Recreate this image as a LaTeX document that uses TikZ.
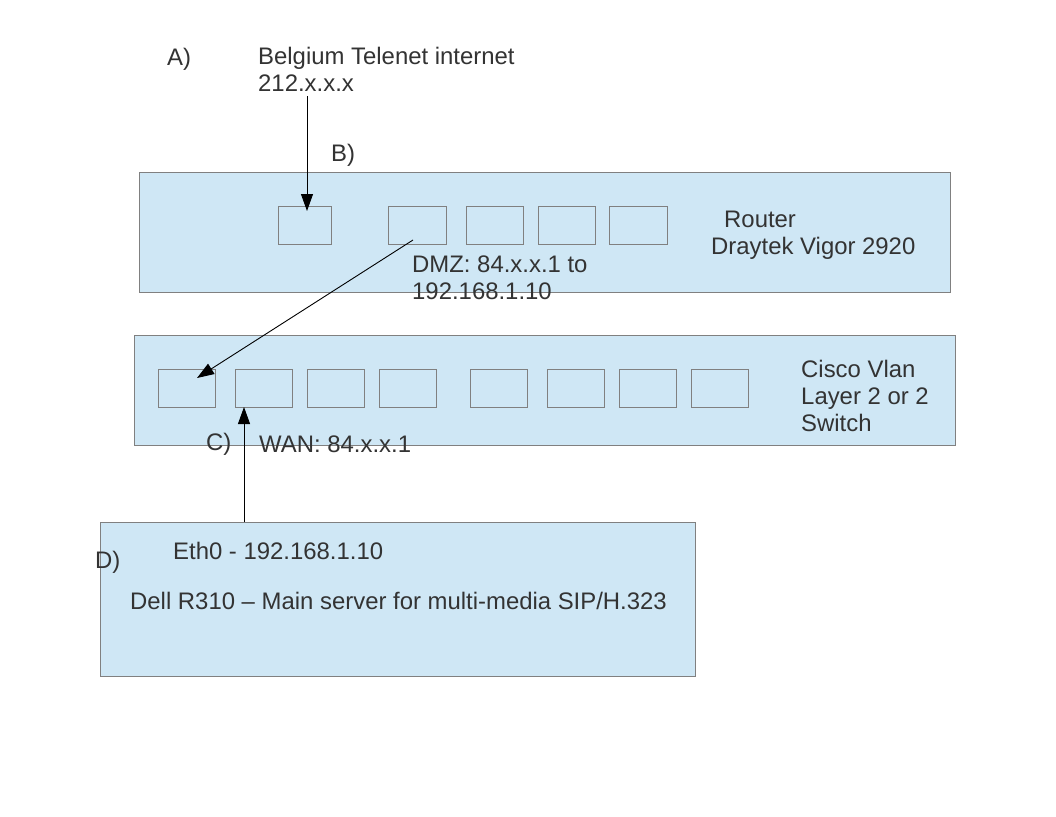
\documentclass[tikz,border=0pt]{standalone}
\usepackage{fontspec}
\setmainfont{Liberation Sans}
\usetikzlibrary{arrows.meta}
\definecolor{boxfill}{RGB}{207,231,245}
\definecolor{boxline}{RGB}{128,128,128}
\definecolor{txt}{RGB}{51,51,51}
\begin{document}
\begin{tikzpicture}[x=1pt,y=-1pt,
  dev/.style={draw=boxline,fill=boxfill,line width=0.9pt},
  port/.style={draw=boxline,line width=0.9pt},
  lbl/.style={anchor=base west,inner sep=0pt,text=txt,font=\fontsize{23.9}{27}\selectfont},
  conn/.style={black,line width=0.9pt,-{Triangle[length=17pt,width=12pt]}}]
\useasboundingbox (0,0) rectangle (1056,816);
\fill[white] (0,0) rectangle (1056,816);
% router
\draw[dev] (139,172) rectangle (950,292);
\draw[port] (278,206) rectangle (331,244);
\draw[port] (388,206) rectangle (446,244);
\draw[port] (466,206) rectangle (523,244);
\draw[port] (538,206) rectangle (595,244);
\draw[port] (609,206) rectangle (667,244);
% switch
\draw[dev] (134,335) rectangle (955,445);
\foreach \a/\b in {158/215,235/292,307/364,379/436,470/527,547/604,619/676,691/748}
  \draw[port] (\a,369) rectangle (\b,407);
% server
\draw[dev] (100,522) rectangle (695,676);
% labels
\node[lbl] (A) at (167,65) {A)};
\node[lbl] (bel1) at (258,64) {Belgium Telenet internet};
\node[lbl] (bel2) at (258,91) {212.x.x.x};
\node[lbl] (B) at (331,161) {B)};
\node[lbl] (rt1) at (724,227) {Router};
\node[lbl] (rt2) at (711,254) {Draytek Vigor 2920};
\node[lbl] (dmz1) at (412,272) {DMZ: 84.x.x.1 to};
\node[lbl] (dmz2) at (412,299) {192.168.1.10};
\node[lbl] (cs1) at (801,377) {Cisco Vlan};
\node[lbl] (cs2) at (801,404) {Layer 2 or 2};
\node[lbl] (cs3) at (801,431) {Switch};
\node[lbl] (C) at (206,450) {C)};
\node[lbl] (wan) at (259,452) {WAN: 84.x.x.1};
\node[lbl] (D) at (95,568) {D)};
\node[lbl] (eth) at (173,559) {Eth0 - 192.168.1.10};
\node[lbl] (dell) at (130,609) {Dell R310 – Main server for multi-media SIP/H.323};
% connectors
\coordinate (inetend) at (307,96);
\coordinate (routerport) at (307,211);
\coordinate (dmzstart) at (413,240);
\coordinate (swport1) at (197,378);
\coordinate (srvtop) at (244,522);
\coordinate (swport2) at (244,407);
\draw[conn] (inetend) -- (routerport);
\draw[conn] (dmzstart) -- (swport1);
\draw[conn] (srvtop) -- (swport2);
\end{tikzpicture}
\end{document}
